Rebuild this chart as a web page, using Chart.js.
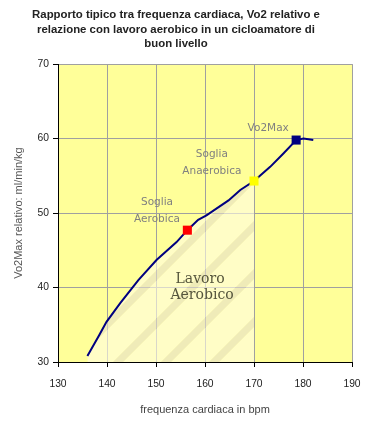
<!DOCTYPE html>
<html>
<head>
<meta charset="utf-8">
<script src="https://cdn.jsdelivr.net/npm/chart.js@4"></script>
<style>
  html, body { margin: 0; padding: 0; background: #fff; }
  #wrap { width: 372px; height: 428px; }
</style>
</head>
<body>
<div id="wrap"><canvas id="chart" width="372" height="428"></canvas></div>
<script>
// curve: heart rate (bpm) vs relative VO2 (ml/min/kg)
const hrCurve  = [136.0, 138.4, 139.9, 142.7, 146.4, 150.1, 154.2, 156.4, 158.6, 160.3, 164.8, 167.2, 170.0, 173.3, 176.0, 178.6, 180.1, 182.1];
const vo2Curve = [30.8, 33.6, 35.4, 37.9, 41.0, 43.7, 46.1, 47.7, 49.1, 49.7, 51.7, 53.1, 54.3, 56.2, 58.0, 59.8, 60.0, 59.8];

// threshold markers
const markerHr  = [156.4, 170.0, 178.6];
const markerVo2 = [47.7, 54.3, 59.8];
const markerColors = ['#ff0000', '#ffff00', '#000080'];

// aerobic zone ends at the anaerobic threshold
const zoneEndHr = 170;

const xTicks = [130, 140, 150, 160, 170, 180, 190];
const yTicks = [30, 40, 50, 60, 70];

const titleLines = [
  'Rapporto tipico tra frequenza cardiaca, Vo2 relativo e',
  'relazione con lavoro aerobico in un cicloamatore di',
  'buon livello'
];

// text inside the plot [text, hr, vo2]
const notes = [
  ['Vo2Max', 172.9, 61.4],
  ['Soglia', 161.4, 57.9],
  ['Anaerobica', 161.4, 55.6],
  ['Soglia', 150.2, 51.5],
  ['Aerobica', 150.2, 49.2]
];
const zoneNotes = [
  ['Lavoro', 159.0, 41.1],
  ['Aerobico', 159.4, 38.9]
];

const curvePts = hrCurve.map((x, i) => ({ x: x, y: vo2Curve[i] }));
const zonePts = curvePts.filter(p => p.x <= zoneEndHr);
const markerPts = markerHr.map((x, i) => ({ x: x, y: markerVo2[i] }));

// see-through hatch for the aerobic zone, so the grid shows through
function makeHatch() {
  const c = document.createElement('canvas');
  c.width = 48; c.height = 48;
  const g = c.getContext('2d');
  g.fillStyle = 'rgba(255,251,228,0.6)';
  g.fillRect(0, 0, 48, 48);
  g.save();
  g.beginPath();
  [0, 48, 96].forEach(k => {
    const w = 5; // half stripe width, along x
    g.moveTo(k - w, 0); g.lineTo(k + w, 0);
    g.lineTo(k + w - 48, 48); g.lineTo(k - w - 48, 48);
    g.closePath();
  });
  g.clip();
  g.clearRect(0, 0, 48, 48);
  g.fillStyle = 'rgba(228,222,205,0.6)';
  g.fillRect(0, 0, 48, 48);
  g.restore();
  return g.createPattern(c, 'repeat');
}

const plotBg = {
  id: 'plotBg',
  beforeDraw(chart) {
    const { ctx, chartArea: a } = chart;
    ctx.save();
    ctx.fillStyle = '#ffff99';
    ctx.fillRect(a.left, a.top, a.right - a.left, a.bottom - a.top);
    ctx.restore();
  }
};

const textNotes = {
  id: 'textNotes',
  afterDatasetsDraw(chart) {
    const { ctx, scales } = chart;
    ctx.save();
    ctx.textAlign = 'center';
    ctx.textBaseline = 'middle';
    ctx.fillStyle = '#808080';
    ctx.font = '10.5px "DejaVu Sans"';
    notes.forEach(n => ctx.fillText(n[0], scales.x.getPixelForValue(n[1]), scales.y.getPixelForValue(n[2])));
    ctx.fillStyle = '#55553c';
    ctx.font = '14px "DejaVu Serif"';
    zoneNotes.forEach(n => ctx.fillText(n[0], scales.x.getPixelForValue(n[1]), scales.y.getPixelForValue(n[2])));
    ctx.restore();
  }
};

new Chart(document.getElementById('chart'), {
  type: 'scatter',
  data: {
    datasets: [
      {
        data: markerPts,
        showLine: false,
        pointStyle: 'rect',
        pointRadius: 6.4,
        pointBackgroundColor: markerColors,
        pointBorderColor: markerColors,
        pointBorderWidth: 0,
        order: 0
      },
      {
        data: curvePts,
        showLine: true,
        borderColor: '#000080',
        borderWidth: 2,
        pointRadius: 0,
        tension: 0,
        order: 1
      },
      {
        data: zonePts,
        showLine: true,
        borderWidth: 0,
        borderColor: 'rgba(0,0,0,0)',
        backgroundColor: makeHatch(),
        fill: 'start',
        pointRadius: 0,
        order: 2
      }
    ]
  },
  options: {
    responsive: false,
    animation: false,
    layout: { padding: { top: 0, right: 20, left: 0, bottom: 0 } },
    plugins: {
      legend: { display: false },
      tooltip: { enabled: false },
      title: {
        display: true,
        text: titleLines,
        color: '#222',
        font: { family: 'Liberation Sans', size: 11.4, weight: 'bold', lineHeight: 1.26 },
        padding: { top: 8, bottom: 13 }
      }
    },
    scales: {
      x: {
        type: 'linear',
        min: 130,
        max: 190,
        afterBuildTicks: s => { s.ticks = xTicks.map(v => ({ value: v })); },
        afterFit: s => { s.height = 66; },
        ticks: { color: '#222', font: { family: 'Liberation Sans', size: 10.3 }, padding: 11, maxRotation: 0 },
        grid: { color: '#a0a0a0', tickColor: '#000', tickLength: 5, lineWidth: 1 },
        border: { color: '#000', width: 1 },
        title: {
          display: true,
          text: 'frequenza cardiaca in bpm',
          color: '#444',
          font: { family: 'Liberation Sans', size: 11 },
          padding: { top: 0, bottom: 11 }
        }
      },
      y: {
        type: 'linear',
        min: 30,
        max: 70,
        afterBuildTicks: s => { s.ticks = yTicks.map(v => ({ value: v })); },
        afterFit: s => { s.width = 58; },
        ticks: { color: '#222', font: { family: 'Liberation Sans', size: 10.3 }, padding: 4 },
        grid: { color: '#a0a0a0', tickColor: '#000', tickLength: 5, lineWidth: 1 },
        border: { color: '#000', width: 1 },
        title: {
          display: true,
          text: 'Vo2Max relativo: ml/min/kg',
          color: '#555',
          font: { family: 'Liberation Sans', size: 11 },
          padding: { top: 12, bottom: 0 }
        }
      }
    }
  },
  plugins: [plotBg, textNotes]
});
</script>
</body>
</html>
